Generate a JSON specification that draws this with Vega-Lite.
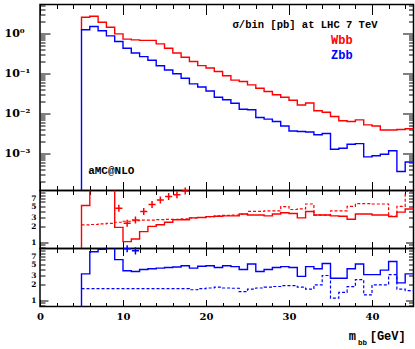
{
  "$schema": "https://vega.github.io/schema/vega-lite/v6.json",
  "padding": {"left": 3, "top": 2.5, "right": 0, "bottom": 0},
  "spacing": 0,
  "bounds": "flush",
  "datasets": {
    "hist": [
      {"x":5,"w":1.22,"z":0.000001},
      {"x":5,"w":2.5,"z":1.22},
      {"x":6,"w":2.66,"z":1.47},
      {"x":7,"w":1.88,"z":1.15},
      {"x":8,"w":1.41,"z":0.86},
      {"x":9,"w":0.96,"z":0.62},
      {"x":10,"w":0.71,"z":0.42},
      {"x":11,"w":0.68,"z":0.32},
      {"x":12,"w":0.66,"z":0.26},
      {"x":13,"w":0.66,"z":0.21},
      {"x":14,"w":0.54,"z":0.153},
      {"x":15,"w":0.42,"z":0.12},
      {"x":16,"w":0.32,"z":0.097},
      {"x":17,"w":0.25,"z":0.075},
      {"x":18,"w":0.196,"z":0.054},
      {"x":19,"w":0.155,"z":0.045},
      {"x":20,"w":0.135,"z":0.036},
      {"x":21,"w":0.11,"z":0.025},
      {"x":22,"w":0.086,"z":0.0216},
      {"x":23,"w":0.067,"z":0.0178},
      {"x":24,"w":0.062,"z":0.0126},
      {"x":25,"w":0.051,"z":0.0122},
      {"x":26,"w":0.042,"z":0.0078},
      {"x":27,"w":0.035,"z":0.0071},
      {"x":28,"w":0.029,"z":0.0062},
      {"x":29,"w":0.025,"z":0.0048},
      {"x":30,"w":0.021,"z":0.0036},
      {"x":31,"w":0.016,"z":0.0035},
      {"x":32,"w":0.018,"z":0.0034},
      {"x":33,"w":0.0115,"z":0.0029},
      {"x":34,"w":0.0106,"z":0.0031},
      {"x":35,"w":0.0083,"z":0.00126},
      {"x":36,"w":0.0065,"z":0.00133},
      {"x":37,"w":0.0062,"z":0.00168},
      {"x":38,"w":0.0068,"z":0.00174},
      {"x":39,"w":0.0051,"z":0.00081},
      {"x":40,"w":0.0048,"z":0.00086},
      {"x":41,"w":0.0038,"z":0.00094},
      {"x":42,"w":0.0038,"z":0.00115},
      {"x":43,"w":0.0039,"z":0.00035},
      {"x":44,"w":0.0041,"z":0.0006},
      {"x":45,"w":0.0041,"z":0.0006}
    ],
    "ratio": [
      {"x":5,"rw":0.1,"rwd":null,"rz":0.1,"rzd":null},
      {"x":5,"rw":5.13,"rwd":2.17,"rz":3.24,"rzd":1.68},
      {"x":6,"rw":30,"rwd":2.21,"rz":8.66,"rzd":1.68},
      {"x":7,"rw":30,"rwd":2.27,"rz":9.6,"rzd":1.68},
      {"x":8,"rw":30,"rwd":2.33,"rz":30,"rzd":1.68},
      {"x":9,"rw":1.94,"rwd":2.44,"rz":6.09,"rzd":1.68},
      {"x":10,"rw":1.03,"rwd":2.55,"rz":3.71,"rzd":1.68},
      {"x":11,"rw":1.16,"rwd":2.61,"rz":3.59,"rzd":1.68},
      {"x":12,"rw":1.61,"rwd":2.67,"rz":3.94,"rzd":1.68},
      {"x":13,"rw":2.03,"rwd":2.67,"rz":4.06,"rzd":1.68},
      {"x":14,"rw":2.19,"rwd":2.73,"rz":4.18,"rzd":1.68},
      {"x":15,"rw":2.44,"rwd":2.78,"rz":4.3,"rzd":1.68},
      {"x":16,"rw":2.73,"rwd":2.78,"rz":4.41,"rzd":1.68},
      {"x":17,"rw":2.73,"rwd":2.84,"rz":4.65,"rzd":1.68},
      {"x":18,"rw":2.96,"rwd":2.96,"rz":4.18,"rzd":1.6},
      {"x":19,"rw":3.01,"rwd":3.01,"rz":4.53,"rzd":1.68},
      {"x":20,"rw":3.13,"rwd":3.13,"rz":4.65,"rzd":1.73},
      {"x":21,"rw":3.19,"rwd":3.24,"rz":4.3,"rzd":1.79},
      {"x":22,"rw":3.24,"rwd":3.3,"rz":4.65,"rzd":1.73},
      {"x":23,"rw":3.24,"rwd":3.36,"rz":4.47,"rzd":1.71},
      {"x":24,"rw":3.53,"rwd":3.48,"rz":3.94,"rzd":1.47},
      {"x":25,"rw":3.36,"rwd":3.94,"rz":5.01,"rzd":1.65},
      {"x":26,"rw":3.36,"rwd":3.94,"rz":3.59,"rzd":1.73},
      {"x":27,"rw":3.24,"rwd":4.06,"rz":3.94,"rzd":1.79},
      {"x":28,"rw":3.53,"rwd":4.06,"rz":4.3,"rzd":1.85},
      {"x":29,"rw":3.71,"rwd":4.89,"rz":4.47,"rzd":1.92},
      {"x":30,"rw":3.59,"rwd":4.3,"rz":4.3,"rzd":1.92},
      {"x":31,"rw":2.96,"rwd":4.41,"rz":2.9,"rzd":1.79},
      {"x":32,"rw":3.94,"rwd":5.49,"rz":4.47,"rzd":1.65},
      {"x":33,"rw":3.36,"rwd":3.36,"rz":4.06,"rzd":1.99},
      {"x":34,"rw":3.36,"rwd":3.36,"rz":5.13,"rzd":3.01},
      {"x":35,"rw":3.24,"rwd":4.06,"rz":2.67,"rzd":1.1},
      {"x":36,"rw":3.19,"rwd":4.06,"rz":2.67,"rzd":1.42},
      {"x":37,"rw":2.78,"rwd":4.95,"rz":4.06,"rzd":1.84},
      {"x":38,"rw":3.53,"rwd":5.6,"rz":5.01,"rzd":2.51},
      {"x":39,"rw":3.53,"rwd":5.6,"rz":3.13,"rzd":1.27},
      {"x":40,"rw":3.36,"rwd":5.49,"rz":3.13,"rzd":1.99},
      {"x":41,"rw":3.36,"rwd":5.49,"rz":3.83,"rzd":1.99},
      {"x":42,"rw":3.13,"rwd":3.19,"rz":5.6,"rzd":3.13},
      {"x":43,"rw":3.83,"rwd":4.95,"rz":2.17,"rzd":1.65},
      {"x":44,"rw":4.41,"rwd":9.6,"rz":3.24,"rzd":1.54},
      {"x":45,"rw":4.41,"rwd":9.6,"rz":3.24,"rzd":1.54}
    ],
    "crossW": [
      {"x":9.5,"r":4.53},{"x":10.5,"r":2.33},{"x":11.5,"r":2.7},{"x":12.5,"r":3.94},
      {"x":13.5,"r":5.37},{"x":14.5,"r":6.57},{"x":15.5,"r":7.67},{"x":16.5,"r":8.29},{"x":17.5,"r":9.8}
    ],
    "crossZ": [
      {"x":10.5,"r":9.9},{"x":11.5,"r":9.0}
    ]
  },
  "vconcat": [
    {
      "width": 373.5,
      "height": 186,
      "layer": [
        {
          "data": {"name": "hist"},
          "mark": {"type": "line", "interpolate": "step-after", "color": "#ff0000", "strokeWidth": 1.4, "clip": true},
          "encoding": {
            "x": {"field": "x", "type": "quantitative", "scale": {"domain": [0, 45], "nice": false, "zero": false},
              "axis": {"orient": "bottom", "values": [0,2,4,6,8,10,12,14,16,18,20,22,24,26,28,30,32,34,36,38,40,42,44], "labels": false, "domain": false, "grid": false, "title": null,
                "tickSize": {"condition": {"test": "datum.value % 10 === 0", "value": -9}, "value": -5}}},
            "y": {"field": "w", "type": "quantitative", "scale": {"type": "log", "domain": [0.0001168, 5.22], "nice": false},
              "axis": {"orient": "left", "values": [0.0002,0.0003,0.0004,0.0005,0.0006,0.0007,0.0008,0.0009,0.001,0.002,0.003,0.004,0.005,0.006,0.007,0.008,0.009,0.01,0.02,0.03,0.04,0.05,0.06,0.07,0.08,0.09,0.1,0.2,0.3,0.4,0.5,0.6,0.7,0.8,0.9,1,2,3,4,5], "labels": false, "domain": false, "grid": false, "title": null,
                "tickSize": {"condition": {"test": "abs(log(datum.value)/LN10 - round(log(datum.value)/LN10)) < 0.01", "value": -10}, "value": -5}}}
          }
        },
        {
          "data": {"name": "hist"},
          "mark": {"type": "line", "interpolate": "step-after", "color": "#0000ff", "strokeWidth": 1.4, "clip": true},
          "encoding": {
            "x": {"field": "x", "type": "quantitative", "scale": {"domain": [0, 45], "nice": false, "zero": false},
              "axis": {"orient": "top", "values": [0,2,4,6,8,10,12,14,16,18,20,22,24,26,28,30,32,34,36,38,40,42,44], "labels": false, "domain": false, "grid": false, "title": null,
                "tickSize": {"condition": {"test": "datum.value % 10 === 0", "value": -10}, "value": -4}}},
            "y": {"field": "z", "type": "quantitative", "scale": {"type": "log", "domain": [0.0001168, 5.22], "nice": false},
              "axis": {"orient": "right", "values": [0.0002,0.0003,0.0004,0.0005,0.0006,0.0007,0.0008,0.0009,0.001,0.002,0.003,0.004,0.005,0.006,0.007,0.008,0.009,0.01,0.02,0.03,0.04,0.05,0.06,0.07,0.08,0.09,0.1,0.2,0.3,0.4,0.5,0.6,0.7,0.8,0.9,1,2,3,4,5], "labels": false, "domain": false, "grid": false, "title": null,
                "tickSize": {"condition": {"test": "abs(log(datum.value)/LN10 - round(log(datum.value)/LN10)) < 0.01", "value": -11}, "value": -5}}}
          }
        },
        {
          "data": {"values": [{}]},
          "mark": {"type": "text", "text": "σ/bin [pb]  at LHC 7 TeV", "align": "left", "baseline": "alphabetic", "font": "Liberation Mono", "fontWeight": "bold", "fontSize": 10.5, "color": "#000000"},
          "encoding": {
            "x": {"datum": 23.2, "type": "quantitative", "scale": {"domain": [0, 45], "nice": false, "zero": false}, "axis": null},
            "y": {"datum": 1.334, "type": "quantitative", "scale": {"type": "log", "domain": [0.0001168, 5.22], "nice": false},
              "axis": {"orient": "left", "values": [0.001, 0.01, 0.1, 1], "ticks": false, "tickSize": 0, "domain": false, "grid": false, "title": null,
                "labelAlign": "left", "labelBaseline": "middle", "labelPadding": 36, "labelFontSize": 11, "labelOverlap": false,
                "labelExpr": "datum.value >= 0.5 ? '10⁰' : datum.value >= 0.05 ? '10⁻¹' : datum.value >= 0.005 ? '10⁻²' : '10⁻³'"}}
          }
        },
        {
          "data": {"values": [{}]},
          "mark": {"type": "text", "text": "Wbb", "align": "left", "baseline": "alphabetic", "font": "Liberation Mono", "fontWeight": "bold", "fontSize": 12, "color": "#ff0000"},
          "encoding": {
            "x": {"datum": 35.06, "type": "quantitative", "scale": {"domain": [0, 45], "nice": false, "zero": false}, "axis": null},
            "y": {"datum": 0.543, "type": "quantitative", "scale": {"type": "log", "domain": [0.0001168, 5.22], "nice": false}, "axis": null}
          }
        },
        {
          "data": {"values": [{}]},
          "mark": {"type": "text", "text": "Zbb", "align": "left", "baseline": "alphabetic", "font": "Liberation Mono", "fontWeight": "bold", "fontSize": 12, "color": "#0000ff"},
          "encoding": {
            "x": {"datum": 35.06, "type": "quantitative", "scale": {"domain": [0, 45], "nice": false, "zero": false}, "axis": null},
            "y": {"datum": 0.229, "type": "quantitative", "scale": {"type": "log", "domain": [0.0001168, 5.22], "nice": false}, "axis": null}
          }
        },
        {
          "data": {"values": [{}]},
          "mark": {"type": "text", "text": "aMC@NLO", "align": "left", "baseline": "alphabetic", "font": "Liberation Mono", "fontWeight": "bold", "fontSize": 11, "color": "#000000"},
          "encoding": {
            "x": {"datum": 5.8, "type": "quantitative", "scale": {"domain": [0, 45], "nice": false, "zero": false}, "axis": null},
            "y": {"datum": 0.00031, "type": "quantitative", "scale": {"type": "log", "domain": [0.0001168, 5.22], "nice": false}, "axis": null}
          }
        }
      ],
      "resolve": {"axis": {"x": "independent", "y": "independent"}}
    },
    {
      "width": 373.5,
      "height": 58,
      "layer": [
        {
          "data": {"name": "ratio"},
          "mark": {"type": "line", "interpolate": "step-after", "color": "#ff0000", "strokeWidth": 1.4, "clip": true},
          "encoding": {
            "x": {"field": "x", "type": "quantitative", "scale": {"domain": [0, 45], "nice": false, "zero": false},
              "axis": {"orient": "bottom", "values": [0,2,4,6,8,10,12,14,16,18,20,22,24,26,28,30,32,34,36,38,40,42,44], "labels": false, "domain": false, "grid": false, "title": null,
                "tickSize": {"condition": {"test": "datum.value % 10 === 0", "value": -7}, "value": -4}}},
            "y": {"field": "rw", "type": "quantitative", "scale": {"type": "log", "domain": [0.76, 10], "nice": false},
              "axis": {"orient": "left", "values": [0.8,0.9,1,2,3,4,5,6,7,8,9], "labels": false, "domain": false, "grid": false, "title": null,
                "tickSize": {"condition": {"test": "abs(datum.value - 1) < 0.001", "value": -8}, "value": -5}}}
          }
        },
        {
          "data": {"name": "ratio"},
          "mark": {"type": "line", "interpolate": "step-after", "color": "#ff0000", "strokeWidth": 1.2, "strokeDash": [3, 2], "clip": true},
          "encoding": {
            "x": {"field": "x", "type": "quantitative", "scale": {"domain": [0, 45], "nice": false, "zero": false},
              "axis": {"orient": "top", "values": [0,2,4,6,8,10,12,14,16,18,20,22,24,26,28,30,32,34,36,38,40,42,44], "labels": false, "domain": false, "grid": false, "title": null,
                "tickSize": {"condition": {"test": "datum.value % 10 === 0", "value": -7}, "value": -4}}},
            "y": {"field": "rwd", "type": "quantitative", "scale": {"type": "log", "domain": [0.76, 10], "nice": false},
              "axis": {"orient": "right", "values": [0.8,0.9,1,2,3,4,5,6,7,8,9], "labels": false, "domain": false, "grid": false, "title": null,
                "tickSize": {"condition": {"test": "abs(datum.value - 1) < 0.001", "value": -8}, "value": -5}}}
          }
        },
        {
          "data": {"name": "crossW"},
          "mark": {"type": "point", "shape": "M-1,0H1M0,-1V1", "filled": false, "color": "#ff0000", "strokeWidth": 1.5, "size": 50, "opacity": 1, "clip": false},
          "encoding": {
            "x": {"field": "x", "type": "quantitative", "scale": {"domain": [0, 45], "nice": false, "zero": false}, "axis": null},
            "y": {"field": "r", "type": "quantitative", "scale": {"type": "log", "domain": [0.76, 10], "nice": false},
              "axis": {"orient": "left", "values": [1, 2, 3, 5, 7], "ticks": false, "tickSize": 0, "domain": false, "grid": false, "title": null,
                "labelAlign": "right", "labelBaseline": "middle", "labelPadding": 4, "labelFontSize": 7.5, "labelOverlap": false}}
          }
        }
      ],
      "resolve": {"axis": {"x": "independent", "y": "independent"}}
    },
    {
      "width": 373.5,
      "height": 58,
      "layer": [
        {
          "data": {"name": "ratio"},
          "mark": {"type": "line", "interpolate": "step-after", "color": "#0000ff", "strokeWidth": 1.4, "clip": true},
          "encoding": {
            "x": {"field": "x", "type": "quantitative", "scale": {"domain": [0, 45], "nice": false, "zero": false},
              "axis": {"orient": "bottom", "values": [0,2,4,6,8,10,12,14,16,18,20,22,24,26,28,30,32,34,36,38,40,42,44], "labels": false, "domain": false, "grid": false, "title": null,
                "tickSize": {"condition": {"test": "datum.value % 10 === 0", "value": -7}, "value": -4}}},
            "y": {"field": "rz", "type": "quantitative", "scale": {"type": "log", "domain": [0.76, 10], "nice": false},
              "axis": {"orient": "left", "values": [0.8,0.9,1,2,3,4,5,6,7,8,9], "labels": false, "domain": false, "grid": false, "title": null,
                "tickSize": {"condition": {"test": "abs(datum.value - 1) < 0.001", "value": -8}, "value": -5}}}
          }
        },
        {
          "data": {"name": "ratio"},
          "mark": {"type": "line", "interpolate": "step-after", "color": "#0000ff", "strokeWidth": 1.2, "strokeDash": [3, 2], "clip": true},
          "encoding": {
            "x": {"field": "x", "type": "quantitative", "scale": {"domain": [0, 45], "nice": false, "zero": false},
              "axis": {"orient": "top", "values": [0,2,4,6,8,10,12,14,16,18,20,22,24,26,28,30,32,34,36,38,40,42,44], "labels": false, "domain": false, "grid": false, "title": null,
                "tickSize": {"condition": {"test": "datum.value % 10 === 0", "value": -7}, "value": -4}}},
            "y": {"field": "rzd", "type": "quantitative", "scale": {"type": "log", "domain": [0.76, 10], "nice": false},
              "axis": {"orient": "right", "values": [0.8,0.9,1,2,3,4,5,6,7,8,9], "labels": false, "domain": false, "grid": false, "title": null,
                "tickSize": {"condition": {"test": "abs(datum.value - 1) < 0.001", "value": -8}, "value": -5}}}
          }
        },
        {
          "data": {"name": "crossZ"},
          "mark": {"type": "point", "shape": "M-1,0H1M0,-1V1", "filled": false, "color": "#0000ff", "strokeWidth": 1.5, "size": 50, "opacity": 1, "clip": false},
          "encoding": {
            "x": {"field": "x", "type": "quantitative", "scale": {"domain": [0, 45], "nice": false, "zero": false},
              "axis": {"orient": "bottom", "values": [0, 10, 20, 30, 40], "ticks": false, "tickSize": 0, "domain": false, "grid": false, "title": null,
                "labelPadding": 5, "labelFontSize": 10, "labelFlush": false, "labelBaseline": "top", "labelOverlap": false}},
            "y": {"field": "r", "type": "quantitative", "scale": {"type": "log", "domain": [0.76, 10], "nice": false},
              "axis": {"orient": "left", "values": [1, 2, 3, 5, 7], "ticks": false, "tickSize": 0, "domain": false, "grid": false, "title": null,
                "labelAlign": "right", "labelBaseline": "middle", "labelPadding": 4, "labelFontSize": 7.5, "labelOverlap": false}}
          }
        },
        {
          "data": {"values": [{}]},
          "mark": {"type": "text", "text": "m", "align": "left", "baseline": "alphabetic", "font": "Liberation Mono", "fontWeight": "bold", "fontSize": 12, "color": "#000000", "clip": false},
          "encoding": {
            "x": {"datum": 37.19, "type": "quantitative", "scale": {"domain": [0, 45], "nice": false, "zero": false}, "axis": null},
            "y": {"datum": 0.169, "type": "quantitative", "scale": {"type": "log", "domain": [0.76, 10], "nice": false}, "axis": null}
          }
        },
        {
          "data": {"values": [{}]},
          "mark": {"type": "text", "text": "bb", "align": "left", "baseline": "alphabetic", "font": "Liberation Mono", "fontWeight": "bold", "fontSize": 7.5, "color": "#000000", "clip": false},
          "encoding": {
            "x": {"datum": 38.3, "type": "quantitative", "scale": {"domain": [0, 45], "nice": false, "zero": false}, "axis": null},
            "y": {"datum": 0.14, "type": "quantitative", "scale": {"type": "log", "domain": [0.76, 10], "nice": false}, "axis": null}
          }
        },
        {
          "data": {"values": [{}]},
          "mark": {"type": "text", "text": "[GeV]", "align": "left", "baseline": "alphabetic", "font": "Liberation Mono", "fontWeight": "bold", "fontSize": 12, "color": "#000000", "clip": false},
          "encoding": {
            "x": {"datum": 39.72, "type": "quantitative", "scale": {"domain": [0, 45], "nice": false, "zero": false}, "axis": null},
            "y": {"datum": 0.169, "type": "quantitative", "scale": {"type": "log", "domain": [0.76, 10], "nice": false}, "axis": null}
          }
        }
      ],
      "resolve": {"axis": {"x": "independent", "y": "independent"}}
    }
  ],
  "resolve": {"scale": {"x": "independent", "y": "independent"}},
  "config": {
    "view": {"stroke": "#000000", "strokeWidth": 1.5},
    "axis": {"tickColor": "#000000", "tickWidth": 1, "labelColor": "#000000", "labelFont": "DejaVu Serif", "labelFontWeight": "bold"}
  }
}
